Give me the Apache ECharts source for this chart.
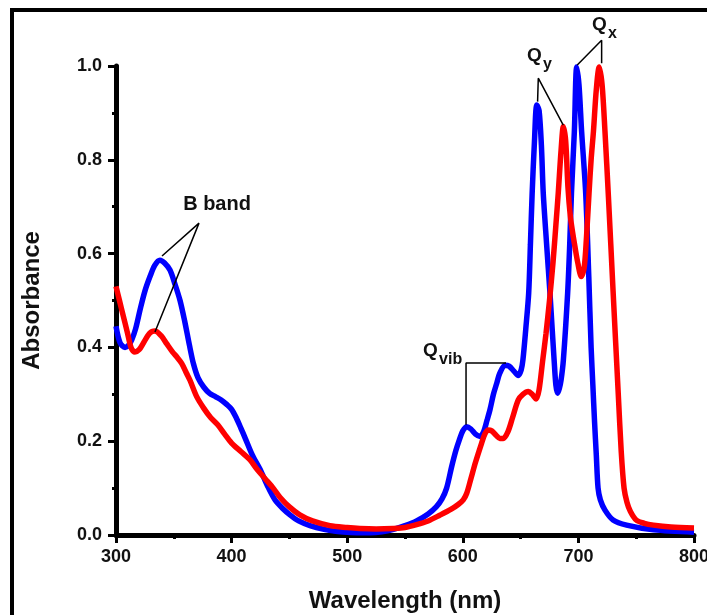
<!DOCTYPE html>
<html>
<head>
<meta charset="utf-8">
<script src="https://cdn.jsdelivr.net/npm/echarts@6/dist/echarts.min.js"></script>
<style>
  html, body { margin: 0; padding: 0; background: #fff; }
  #chart { width: 707px; height: 615px; }
</style>
</head>
<body>
<div id="chart"></div>
<script>
// Axis ticks
const wavelengthTicks = [300, 400, 500, 600, 700, 800];
const absorbanceTicks = [0.0, 0.2, 0.4, 0.6, 0.8, 1.0];

// Absorption spectra: [wavelength (nm), absorbance]
const blueSpectrum = [
  [300, 0.445], [303.5, 0.41], [307.8, 0.40], [311, 0.405], [313.6, 0.416], [317, 0.44],
  [320.8, 0.48], [325, 0.52], [329.4, 0.551], [333.5, 0.575], [338, 0.586], [342, 0.58],
  [346.7, 0.565], [351, 0.535], [355.4, 0.50], [359.5, 0.455], [363.5, 0.405], [367, 0.365],
  [371, 0.335], [376, 0.315], [381, 0.302], [386, 0.295], [391, 0.288], [396, 0.278],
  [400, 0.268], [404, 0.25], [408, 0.228], [412, 0.205], [418, 0.17], [424.6, 0.14],
  [431, 0.105], [437.5, 0.075], [444, 0.057], [450.5, 0.043], [458, 0.03], [467.8, 0.02],
  [480, 0.012], [490, 0.008], [500, 0.006], [510, 0.005], [520, 0.005], [530, 0.007],
  [540, 0.012], [550, 0.02], [560, 0.03], [570, 0.045], [577, 0.06], [582, 0.077],
  [586, 0.10], [590.4, 0.146], [594, 0.18], [597, 0.203], [600, 0.222], [603.4, 0.231],
  [607, 0.226], [611, 0.215], [614.9, 0.21], [618, 0.22], [621, 0.245], [623.5, 0.267],
  [626.5, 0.30], [629.3, 0.323], [632, 0.345], [636.5, 0.362], [640, 0.36], [644, 0.35],
  [648, 0.34], [650.5, 0.352], [652, 0.373], [654.5, 0.44], [657, 0.516], [658.5, 0.62],
  [660, 0.729], [662, 0.84], [664, 0.917], [666, 0.905], [668, 0.83], [669.6, 0.729],
  [672.5, 0.62], [675.4, 0.516], [677.3, 0.44], [679, 0.373], [680.5, 0.32], [682, 0.302],
  [683.5, 0.312], [685, 0.33], [687, 0.373], [690.7, 0.516], [692.5, 0.62], [694, 0.729],
  [696.5, 0.86], [698.5, 0.998], [700.5, 0.96], [702.8, 0.86], [706.3, 0.729], [709, 0.55],
  [711, 0.40], [712.5, 0.32], [714, 0.24], [715.5, 0.17], [717, 0.10], [719, 0.075],
  [723, 0.053], [730, 0.032], [741.7, 0.021], [765, 0.011], [800, 0.006]
];

const redSpectrum = [
  [300, 0.53], [303, 0.50], [306, 0.47], [310, 0.43], [313, 0.40], [316.4, 0.39],
  [320, 0.395], [323.6, 0.409], [329, 0.43], [333.7, 0.435], [339, 0.425], [343.8, 0.408],
  [349, 0.39], [352.5, 0.38], [356.8, 0.366], [361, 0.345], [364, 0.33], [369.8, 0.295],
  [376, 0.27], [382, 0.25], [388, 0.235], [394, 0.215], [400, 0.196], [408, 0.178],
  [416, 0.16], [422, 0.14], [429, 0.12], [436, 0.10], [442, 0.08], [450, 0.06],
  [459, 0.043], [470, 0.03], [485, 0.02], [500, 0.016], [511, 0.014], [525, 0.013],
  [540, 0.014], [550, 0.016], [560, 0.022], [570, 0.03], [580, 0.042], [590, 0.055],
  [596, 0.065], [600.4, 0.075], [603.4, 0.089], [607, 0.12], [611, 0.155], [616.3, 0.196],
  [619, 0.215], [622, 0.224], [625, 0.222], [629, 0.212], [632, 0.206], [635, 0.206],
  [639, 0.22], [643, 0.25], [648, 0.288], [652, 0.30], [656.7, 0.306], [660, 0.30],
  [663.5, 0.29], [666, 0.31], [669, 0.37], [672, 0.43], [675, 0.50], [678, 0.58],
  [680.5, 0.66], [682.6, 0.73], [685, 0.82], [687, 0.871], [689, 0.84], [691, 0.74],
  [693, 0.68], [695, 0.645], [697, 0.615], [699.5, 0.58], [702.5, 0.551], [705, 0.57],
  [707, 0.635], [709.2, 0.729], [711, 0.80], [713, 0.86], [715.5, 0.95], [718, 0.998],
  [720.5, 0.96], [723, 0.86], [726, 0.72], [730, 0.52], [734.5, 0.30], [737, 0.18],
  [739.5, 0.10], [742, 0.07], [745, 0.05], [750, 0.032], [757, 0.025], [765, 0.021],
  [780, 0.017], [800, 0.015]
];

// Band assignment leaders, in data coordinates
const bBandLeader = [[339.8, 0.595], [371.8, 0.665], [333.7, 0.433]];
const qVibLeader = [[637.4, 0.367], [602.8, 0.367], [602.8, 0.235]];
const qyLeader = [[664.7, 0.924], [665.3, 0.974], [686.9, 0.874]];
const qxLeader = [[699.0, 1.002], [720.1, 1.055], [720.1, 1.006]];

// Band names: main text, subscript, anchor in data coordinates
const bandNames = [
  { main: 'B band', sub: '', at: [387.4, 0.704] },
  { main: 'Q', sub: 'vib', at: [565.6, 0.392] },
  { main: 'Q', sub: 'y', at: [655.5, 1.021] },
  { main: 'Q', sub: 'x', at: [711.8, 1.087] }
];

const FONT = '"Liberation Sans", Arial, Helvetica, sans-serif';
const INK = '#111';

const chart = echarts.init(document.getElementById('chart'), null, { renderer: 'canvas' });

function leader(data) {
  return {
    type: 'line', data: data, symbol: 'none', silent: true, clip: false,
    lineStyle: { color: '#000', width: 1.5 }, z: 5
  };
}

function axisCommon() {
  return {
    axisLine: { onZero: false, lineStyle: { color: '#000', width: 5 } },
    axisTick: { inside: false, length: 8, lineStyle: { color: '#000', width: 3 } },
    minorTick: { show: true, splitNumber: 2, length: 4, lineStyle: { color: '#000', width: 3 } },
    splitLine: { show: false },
    minorSplitLine: { show: false }
  };
}

chart.setOption({
  animation: false,
  backgroundColor: '#fff',
  grid: { left: 116, right: 13, top: 66, bottom: 80, outerBoundsMode: 'none', containLabel: false },
  xAxis: Object.assign(axisCommon(), {
    type: 'value',
    min: wavelengthTicks[0],
    max: wavelengthTicks[wavelengthTicks.length - 1],
    interval: wavelengthTicks[1] - wavelengthTicks[0],
    name: 'Wavelength (nm)',
    nameLocation: 'middle',
    nameGap: 54,
    nameTextStyle: { fontFamily: FONT, fontWeight: 'bold', fontSize: 24, color: INK },
    axisLabel: { margin: 13, fontFamily: FONT, fontWeight: 'bold', fontSize: 18, color: INK }
  }),
  yAxis: Object.assign(axisCommon(), {
    type: 'value',
    min: absorbanceTicks[0],
    max: absorbanceTicks[absorbanceTicks.length - 1],
    interval: 0.2,
    name: 'Absorbance',
    nameLocation: 'middle',
    nameGap: 72,
    nameRotate: 90,
    nameTextStyle: { fontFamily: FONT, fontWeight: 'bold', fontSize: 24, color: INK },
    axisLabel: {
      margin: 14, fontFamily: FONT, fontWeight: 'bold', fontSize: 18, color: INK,
      formatter: function (v) { return v.toFixed(1); }
    }
  }),
  series: [
    {
      name: 'spectrum A', type: 'line', data: blueSpectrum, smooth: 0.3, symbol: 'none',
      lineStyle: { color: '#0000ff', width: 5.5 }, z: 2
    },
    {
      name: 'spectrum B', type: 'line', data: redSpectrum, smooth: 0.3, symbol: 'none',
      lineStyle: { color: '#ff0000', width: 5.5 }, z: 3
    },
    leader(bBandLeader),
    leader(qVibLeader),
    leader(qyLeader),
    leader(qxLeader)
  ]
});

// Outer frame and band names placed at their data anchors
const graphics = [{
  type: 'rect', silent: true, z: 0,
  shape: { x: 12, y: 10, width: 760, height: 680 },
  style: { fill: 'none', stroke: '#000', lineWidth: 4 }
}];
bandNames.forEach(function (b) {
  const p = chart.convertToPixel({ gridIndex: 0 }, b.at);
  if (!b.sub) {
    graphics.push({
      type: 'text', x: p[0], y: p[1], z: 10, silent: true,
      style: { text: b.main, font: 'bold 20px ' + FONT, fill: INK, align: 'center', verticalAlign: 'middle' }
    });
  } else {
    graphics.push({
      type: 'text', x: p[0], y: p[1], z: 10, silent: true,
      style: { text: b.main, font: 'bold 19px ' + FONT, fill: INK, align: 'left', verticalAlign: 'middle' }
    });
    graphics.push({
      type: 'text', x: p[0] + 16, y: p[1] + 8, z: 10, silent: true,
      style: { text: b.sub, font: 'bold 16px ' + FONT, fill: INK, align: 'left', verticalAlign: 'middle' }
    });
  }
});
chart.setOption({ graphic: graphics });
</script>
</body>
</html>
